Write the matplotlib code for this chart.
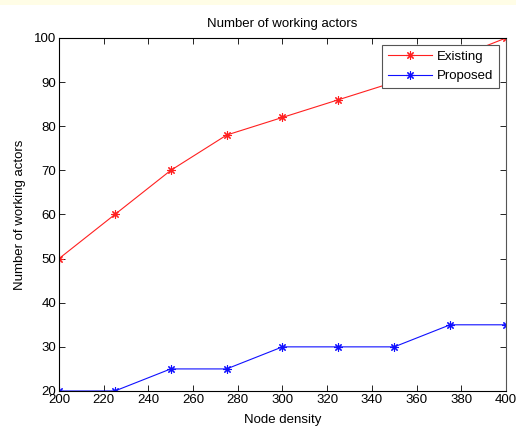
"""
Number of working actors vs. node density.
"""

import matplotlib.pyplot as plt
from matplotlib.patches import Rectangle

# Data
node_density = [200, 225, 250, 275, 300, 325, 350, 375, 400]
existing = [50, 60, 70, 78, 82, 86, 90, 95, 100]
proposed = [20, 20, 25, 25, 30, 30, 30, 35, 35]

x_ticks = list(range(200, 401, 20))
y_ticks = list(range(20, 101, 10))

plt.rcParams['font.family'] = ['Liberation Sans', 'DejaVu Sans']

fig = plt.figure(figsize=(5.16, 4.26), dpi=100)
fig.patch.set_facecolor('white')

# pale strip along the top edge
fig.patches.append(Rectangle((0, 0.988), 1, 0.012, transform=fig.transFigure,
                             facecolor='#fffde6', edgecolor='none'))

ax = fig.add_axes([0.1143, 0.0822, 0.8663, 0.8286])

# asterisk markers, MATLAB style
star = (8, 2, 0)
ax.plot(node_density, existing, '-', color='#ff2020', marker=star,
        markersize=6, markeredgewidth=0.8, linewidth=0.8, label='Existing')
ax.plot(node_density, proposed, '-', color='#1010ff', marker=star,
        markersize=6, markeredgewidth=0.8, linewidth=0.8, label='Proposed')

ax.set_xlim(200, 400)
ax.set_ylim(20, 100)
ax.set_xticks(x_ticks)
ax.set_yticks(y_ticks)
ax.tick_params(direction='in', top=True, right=True, labelsize=9.5,
               length=4, width=0.6, pad=2)
for s in ax.spines.values():
    s.set_linewidth(0.8)
ax.spines['right'].set_color('#555555')

ax.set_title('Number of working actors', fontsize=9.5, pad=8)
ax.set_xlabel('Node density', fontsize=9.5, labelpad=6)
ax.set_ylabel('Number of working actors', fontsize=9.5, labelpad=6)

leg = ax.legend(loc='upper right', fontsize=9.5, fancybox=False,
                framealpha=1, edgecolor='#555555', borderaxespad=0.5,
                handlelength=3.3, handletextpad=0.4, borderpad=0.45,
                labelspacing=0.55)
leg.get_frame().set_linewidth(0.8)

plt.savefig('out.png', dpi=100)
